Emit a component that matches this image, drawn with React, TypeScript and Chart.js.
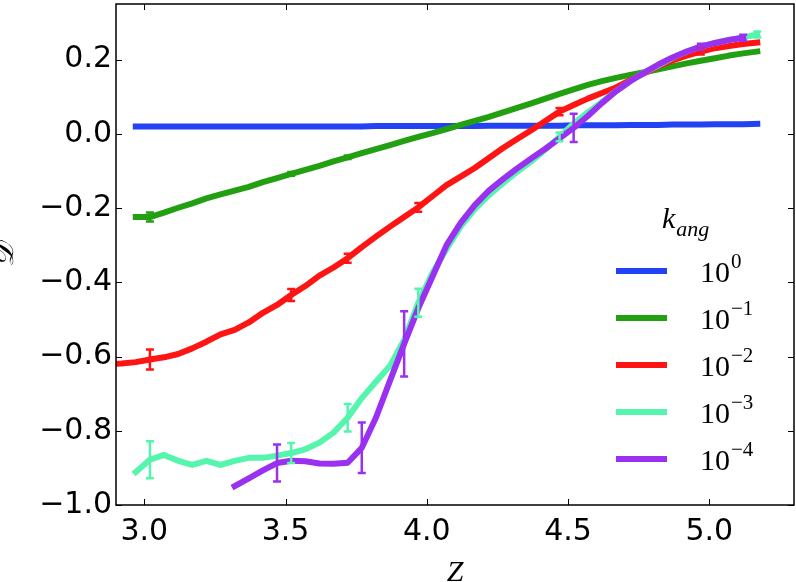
import React, { useEffect, useRef } from 'react';
import { Chart, registerables } from 'chart.js';

Chart.register(...registerables);

// Redshift grid (Z)
const zValues = [
  2.87, 2.92, 2.97, 3.02, 3.07, 3.12, 3.17, 3.22, 3.27, 3.32,
  3.37, 3.42, 3.47, 3.52, 3.57, 3.62, 3.67, 3.72, 3.77, 3.82,
  3.87, 3.92, 3.97, 4.02, 4.07, 4.12, 4.17, 4.22, 4.27, 4.32,
  4.37, 4.42, 4.47, 4.52, 4.57, 4.62, 4.67, 4.72, 4.77, 4.82,
  4.87, 4.92, 4.97, 5.02, 5.07, 5.12, 5.17,
];

// k_ang = 10^0
const k0Values = [
  null, null,
  0.020, 0.020, 0.020, 0.020, 0.020, 0.020, 0.020, 0.020, 0.020, 0.020,
  0.020, 0.020, 0.020, 0.020, 0.020, 0.020, 0.020, 0.021, 0.021, 0.021, 0.021,
  0.021, 0.021, 0.021, 0.021, 0.022, 0.022, 0.022, 0.022, 0.022, 0.022,
  0.023, 0.023, 0.023, 0.023, 0.024, 0.024, 0.024, 0.025, 0.025, 0.025,
  0.026, 0.026, 0.026, 0.027,
];
// k_ang = 10^-1
const k1Values = [
  null, null,
  -0.224, -0.224, -0.212, -0.199, -0.187, -0.174, -0.163, -0.153, -0.143, -0.130,
  -0.119, -0.108, -0.097, -0.086, -0.074, -0.063, -0.052, -0.041, -0.030, -0.019,
  -0.008, 0.002, 0.013, 0.024, 0.035, 0.046, 0.058, 0.070, 0.082, 0.095,
  0.108, 0.120, 0.132, 0.142, 0.151, 0.159, 0.166, 0.174, 0.182, 0.190,
  0.197, 0.204, 0.211, 0.217, 0.222,
];
// k_ang = 10^-2
const k2Values = [
  -0.620, -0.619, -0.615, -0.608, -0.602, -0.593, -0.578, -0.560, -0.540, -0.528,
  -0.508, -0.482, -0.461, -0.434, -0.410, -0.382, -0.360, -0.335, -0.305, -0.277,
  -0.250, -0.224, -0.198, -0.168, -0.138, -0.115, -0.092, -0.065, -0.038, -0.014,
  0.010, 0.035, 0.060, 0.078, 0.095, 0.110, 0.125, 0.145, 0.163, 0.182,
  0.198, 0.211, 0.222, 0.231, 0.237, 0.242, 0.246,
];
// k_ang = 10^-3
const k3Values = [
  null, null,
  -0.911, -0.878, -0.865, -0.881, -0.892, -0.881, -0.892, -0.881, -0.873, -0.873,
  -0.867, -0.860, -0.850, -0.832, -0.805, -0.765, -0.712, -0.668, -0.625, -0.555,
  -0.455, -0.375, -0.310, -0.250, -0.203, -0.165, -0.133, -0.102, -0.074, -0.042,
  -0.008, 0.028, 0.058, 0.086, 0.115, 0.142, 0.165, 0.185, 0.205, 0.222,
  0.235, 0.245, 0.253, 0.260, 0.268,
];
// k_ang = 10^-4
const k4Values = [
  null, null, null, null, null, null, null, null, null,
  -0.949, -0.928, -0.907, -0.887, -0.881, -0.882, -0.888, -0.889, -0.886, -0.846,
  -0.765, -0.665, -0.566, -0.470, -0.385, -0.300, -0.240, -0.192, -0.153, -0.122,
  -0.093, -0.066, -0.040, -0.012, 0.016, 0.048, 0.083, 0.115, 0.142, 0.165,
  0.187, 0.206, 0.222, 0.235, 0.245, 0.253, 0.259,
  null,
];

// Error bars: positions (Z) and half-widths
const k0ErrZ: number[] = [];
const k0Err: number[] = [];
const k1ErrZ = [3.02, 3.52, 3.72];
const k1Err = [0.012, 0.005, 0.005];
const k2ErrZ = [3.02, 3.52, 3.72, 3.97, 4.47, 4.97];
const k2Err = [0.027, 0.016, 0.012, 0.012, 0.010, 0.008];
const k3ErrZ = [3.02, 3.52, 3.72, 3.97, 4.47, 5.17];
const k3Err = [0.050, 0.027, 0.037, 0.038, 0.012, 0.008];
const k4ErrZ = [3.47, 3.77, 3.92, 4.52, 4.97, 5.12];
const k4Err = [0.050, 0.068, 0.088, 0.038, 0.008, 0.008];

const legendExponents = ['0', '\u22121', '\u22122', '\u22123', '\u22124'];
const seriesColors = ['#2342f4', '#22a012', '#ff1414', '#55f5ae', '#9a30f0'];

const seriesList = [
  { values: k0Values, errZ: k0ErrZ, err: k0Err },
  { values: k1Values, errZ: k1ErrZ, err: k1Err },
  { values: k2Values, errZ: k2ErrZ, err: k2Err },
  { values: k3Values, errZ: k3ErrZ, err: k3Err },
  { values: k4Values, errZ: k4ErrZ, err: k4Err },
];

const TICK_FONT = '"DejaVu Sans", sans-serif';
const SERIF = '"Liberation Serif", "DejaVu Serif", serif';

const fmt = (v: number | string) => {
  const n = Number(v);
  const s = Math.abs(n).toFixed(1);
  return n < -1e-9 ? '\u2212' + s : s;
};

const errorBarPlugin = {
  id: 'errorBars',
  afterDatasetsDraw(chart: any) {
    const { ctx, chartArea, scales } = chart;
    const x = scales.x;
    const y = scales.y;
    ctx.save();
    ctx.beginPath();
    ctx.rect(chartArea.left, chartArea.top, chartArea.right - chartArea.left, chartArea.bottom - chartArea.top);
    ctx.clip();
    ctx.lineWidth = 2.5;
    ctx.lineCap = 'butt';
    seriesList.forEach((s, si) => {
      ctx.strokeStyle = seriesColors[si];
      s.errZ.forEach((zv, k) => {
        const idx = zValues.findIndex((v) => Math.abs(v - zv) < 1e-6);
        const yv = idx >= 0 ? s.values[idx] : null;
        if (yv == null) return;
        const px = x.getPixelForValue(zv);
        const top = y.getPixelForValue(yv + s.err[k]);
        const bot = y.getPixelForValue(yv - s.err[k]);
        ctx.beginPath();
        ctx.moveTo(px, top);
        ctx.lineTo(px, bot);
        ctx.moveTo(px - 4, top);
        ctx.lineTo(px + 4, top);
        ctx.moveTo(px - 4, bot);
        ctx.lineTo(px + 4, bot);
        ctx.stroke();
      });
    });
    ctx.restore();
  },
};

const framePlugin = {
  id: 'frame',
  afterDraw(chart: any) {
    const { ctx, chartArea, scales } = chart;
    const { left, right, top, bottom } = chartArea;
    ctx.save();
    ctx.strokeStyle = '#000';
    ctx.lineWidth = 1;
    ctx.beginPath();
    scales.x.ticks.forEach((t: any) => {
      const px = Math.round(scales.x.getPixelForValue(t.value)) + 0.5;
      ctx.moveTo(px, bottom);
      ctx.lineTo(px, bottom - 6);
      ctx.moveTo(px, top);
      ctx.lineTo(px, top + 6);
    });
    scales.y.ticks.forEach((t: any) => {
      const py = Math.round(scales.y.getPixelForValue(t.value)) + 0.5;
      ctx.moveTo(left, py);
      ctx.lineTo(left + 6, py);
      ctx.moveTo(right, py);
      ctx.lineTo(right - 6, py);
    });
    ctx.stroke();
    ctx.lineWidth = 1.5;
    ctx.strokeRect(left, top, right - left, bottom - top);

    // axis titles
    ctx.fillStyle = '#000';
    ctx.font = `italic 30px ${SERIF}`;
    ctx.textAlign = 'center';
    ctx.textBaseline = 'alphabetic';
    ctx.fillText('Z', (left + right) / 2, bottom + 76);
    ctx.save();
    ctx.translate(13, (top + bottom) / 2);
    ctx.rotate(-Math.PI / 2);
    ctx.fillText('\u{1D49F}', 0, 0);
    ctx.restore();

    // legend
    const lx0 = right - 178;
    const lx1 = right - 127;
    const tx = right - 94;
    ctx.textAlign = 'left';
    ctx.font = `italic 30px ${SERIF}`;
    ctx.fillText('k', right - 132, top + 224);
    const kw = ctx.measureText('k').width;
    ctx.font = `italic 22px ${SERIF}`;
    ctx.fillText('ang', right - 132 + kw + 1, top + 232);
    seriesColors.forEach((c, i) => {
      const cy = top + 267 + 47 * i;
      ctx.strokeStyle = c;
      ctx.lineWidth = 6;
      ctx.lineCap = 'butt';
      ctx.beginPath();
      ctx.moveTo(lx0, cy);
      ctx.lineTo(lx1, cy);
      ctx.stroke();
      ctx.font = `30px ${SERIF}`;
      ctx.fillText('10', tx, cy + 11);
      const w = ctx.measureText('10').width;
      ctx.font = `21px ${SERIF}`;
      ctx.fillText(legendExponents[i], tx + w + 1, cy - 3);
    });
    ctx.restore();
  },
};

export default function App() {
  const canvasRef = useRef<HTMLCanvasElement | null>(null);

  useEffect(() => {
    document.body.style.margin = '0';
    const canvas = canvasRef.current;
    if (!canvas) return;
    const orders = [4, 3, 2, 1, 0];
    const chart = new Chart(canvas, {
      type: 'line',
      data: {
        datasets: seriesList.map((s, i) => ({
          label: '10^' + legendExponents[i],
          data: zValues.map((z, j) => ({ x: z, y: s.values[j] })),
          borderColor: seriesColors[i],
          backgroundColor: seriesColors[i],
          borderWidth: 6,
          pointRadius: 0,
          tension: 0,
          fill: false,
          spanGaps: false,
          borderCapStyle: 'square',
          borderJoinStyle: 'round',
          clip: 0,
          order: orders[i],
        })),
      },
      options: {
        responsive: false,
        animation: false,
        events: [],
        layout: { padding: { top: 4, right: 2, left: 0, bottom: 0 } },
        plugins: {
          legend: { display: false },
          tooltip: { enabled: false },
        },
        scales: {
          x: {
            type: 'linear',
            min: 2.9,
            max: 5.3,
            afterFit: (s: any) => {
              s.height = 77;
              s.paddingLeft = 0;
              s.paddingRight = 0;
            },
            grid: { display: false, drawTicks: false },
            border: { display: false },
            ticks: {
              stepSize: 0.5,
              includeBounds: false,
              autoSkip: false,
              maxRotation: 0,
              padding: 9,
              color: '#000',
              font: { family: TICK_FONT, size: 30 },
              callback: (v: any) => fmt(v),
            },
          },
          y: {
            type: 'linear',
            min: -1.0,
            max: 0.35,
            afterFit: (s: any) => {
              s.width = 116;
              s.paddingTop = 0;
              s.paddingBottom = 0;
            },
            grid: { display: false, drawTicks: false },
            border: { display: false },
            ticks: {
              stepSize: 0.2,
              includeBounds: false,
              autoSkip: false,
              padding: 4,
              color: '#000',
              font: { family: TICK_FONT, size: 30 },
              callback: (v: any) => fmt(v),
            },
          },
        },
      } as any,
      plugins: [errorBarPlugin, framePlugin],
    } as any);
    return () => chart.destroy();
  }, []);

  return (
    <div style={{ position: 'absolute', left: 0, top: 0, width: 796, height: 582, background: '#fff' }}>
      <canvas ref={canvasRef} width={796} height={582} style={{ display: 'block' }} />
    </div>
  );
}
